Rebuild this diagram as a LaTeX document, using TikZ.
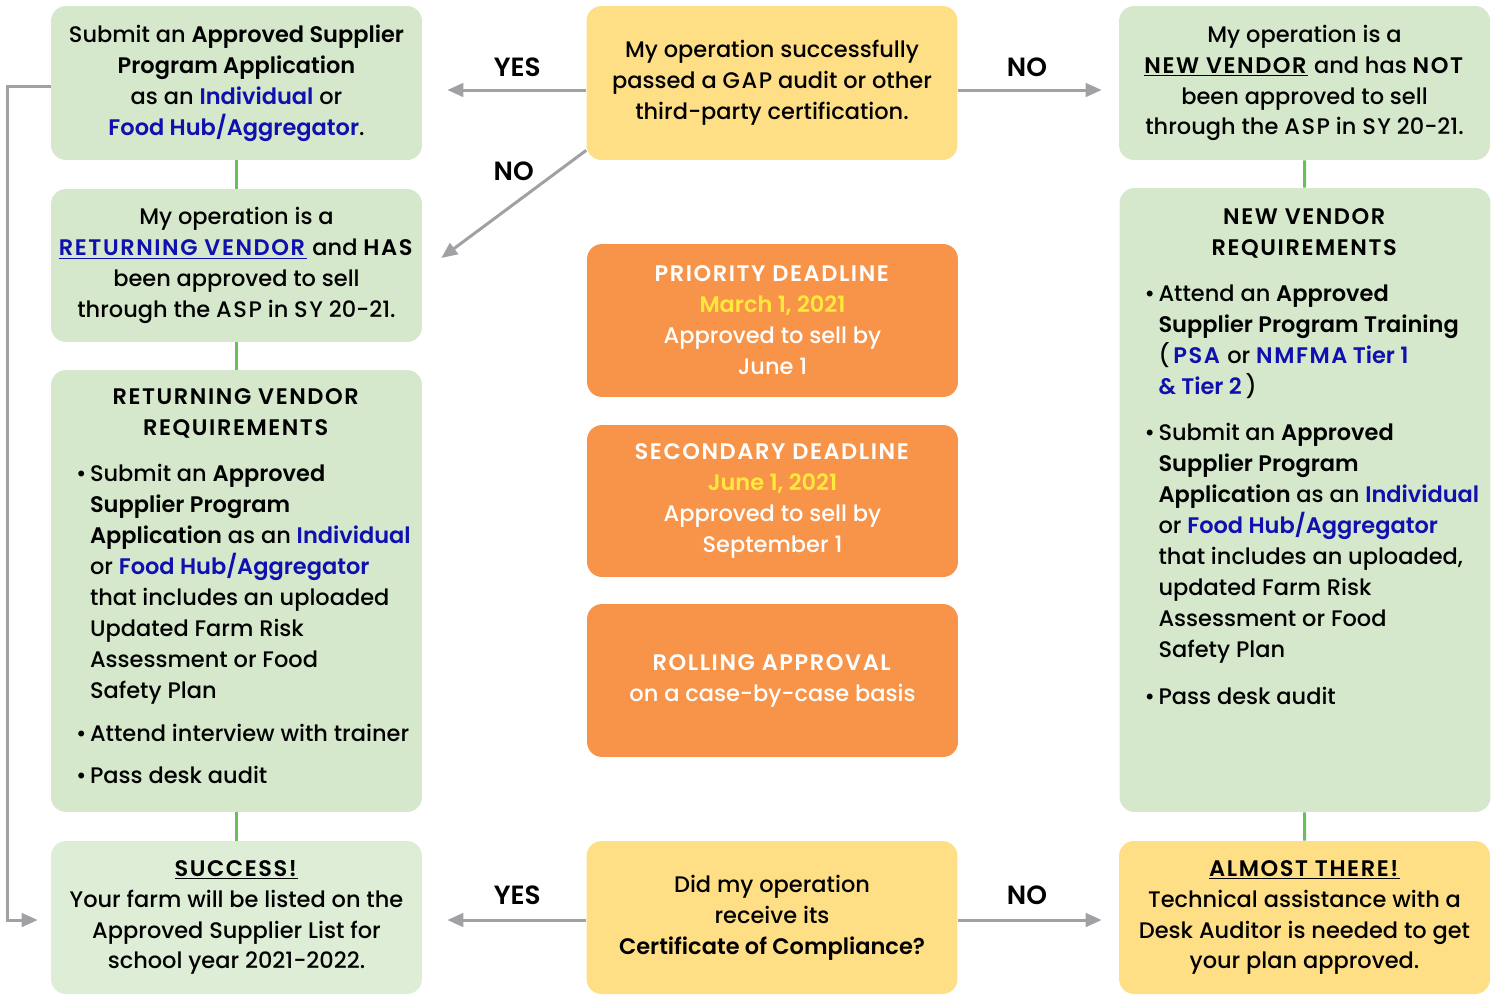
\documentclass[tikz,border=0pt]{standalone}
\usepackage{fontspec}
\setmainfont{Poppins}[UprightFont={Poppins Medium}, BoldFont={Poppins SemiBold}]
\usetikzlibrary{arrows.meta}

\definecolor{boxgreen}{HTML}{D5E8CB}
\definecolor{succgreen}{HTML}{DDEDD6}
\definecolor{gapyellow}{HTML}{FFDF85}
\definecolor{dlorange}{HTML}{F79449}
\definecolor{datecol}{HTML}{FFE93A}
\definecolor{linkblue}{HTML}{1010B0}
\definecolor{arrowgrey}{HTML}{A0A1A5}
\definecolor{linkgreen}{HTML}{6ABF5A}

\newcommand\boxfont{\fontsize{12.8}{17.6}\selectfont}
\newcommand\caps[1]{{\addfontfeature{LetterSpace=7}#1}}
\newcommand\capsbf[1]{\textbf{\caps{#1}}}
\newcommand\bluebf[1]{\textcolor{linkblue}{\textbf{#1}}}
\newcommand\bitem[1]{\makebox[0.28cm][l]{\textbullet}\begin{tabular}[t]{@{}l@{}}#1\end{tabular}\par}

\begin{document}
\begin{tikzpicture}[x=0.02cm, y=-0.02cm,
    box/.style={rectangle, rounded corners=0.3cm, inner sep=0pt, minimum width=7.42cm, minimum height=3.06cm, align=center, font=\boxfont},
    greenbox/.style={box, fill=boxgreen},
    yellowbox/.style={box, fill=gapyellow},
    orangebox/.style={box, fill=dlorange, text=white},
    link/.style={draw=linkgreen, line width=0.06cm},
    arr/.style={draw=arrowgrey, line width=0.06cm, -{Triangle[length=0.32cm, width=0.27cm]}},
    lbl/.style={font=\fontsize{15}{18}\selectfont\bfseries}
]
    \useasboundingbox (0,0) rectangle (1497,994);

    % Left column
    \node[greenbox, minimum height=3.08cm] (sub) at (236.5,83) {Submit an \textbf{Approved Supplier}\\\textbf{Program Application}\\as an \bluebf{Individual} or\\\bluebf{Food Hub/Aggregator}.};
    \node[greenbox] (ret) at (236.5,265.5) {My operation is a\\\textcolor{linkblue}{\underline{\capsbf{RETURNING VENDOR}}} and \capsbf{HAS}\\been approved to sell\\through the \caps{ASP} in \caps{SY} 20-21.};
    \node[greenbox, minimum height=8.84cm] (rvreq) at (236.5,591) {\parbox{6.42cm}{\centering\capsbf{RETURNING VENDOR}\\\capsbf{REQUIREMENTS}\par\vspace{0.3cm}\raggedright
        \bitem{Submit an \textbf{Approved}\\\textbf{Supplier Program}\\\textbf{Application} as an \bluebf{Individual}\\or \bluebf{Food Hub/Aggregator}\\that includes an uploaded\\Updated Farm Risk\\Assessment or Food\\Safety Plan}\vspace{0.22cm}
        \bitem{Attend interview with trainer}\vspace{0.22cm}
        \bitem{Pass desk audit}}};
    \node[box, fill=succgreen] (succ) at (236.5,917.5) {\underline{\capsbf{SUCCESS!}}\\Your farm will be listed on the\\Approved Supplier List for\\school year 2021-2022.};

    % Middle column
    \node[yellowbox, minimum height=3.08cm] (gap) at (772,83) {My operation successfully\\passed a \caps{GAP} audit or other\\third-party certification.};
    \node[orangebox] (prio) at (772.5,320.5) {\capsbf{PRIORITY DEADLINE}\\\textcolor{datecol}{\textbf{March 1, 2021}}\\Approved to sell by\\June 1};
    \node[orangebox, minimum height=3.04cm] (sec) at (772.5,501) {\capsbf{SECONDARY DEADLINE}\\\textcolor{datecol}{\textbf{June 1, 2021}}\\Approved to sell by\\September 1};
    \node[orangebox] (roll) at (772.5,680.5) {\capsbf{ROLLING APPROVAL}\\on a case-by-case basis};
    \node[yellowbox] (coc) at (772,917.5) {Did my operation\\receive its\\\textbf{Certificate of Compliance?}};

    % Right column
    \node[greenbox, minimum height=3.08cm] (newv) at (1304.5,83) {My operation is a\\\underline{\capsbf{NEW VENDOR}} and has \capsbf{NOT}\\been approved to sell\\through the \caps{ASP} in \caps{SY} 20-21.};
    \node[greenbox, minimum height=12.48cm] (nvreq) at (1305,500) {\parbox[c][11.88cm][t]{6.42cm}{\centering\strut\capsbf{NEW VENDOR}\\\capsbf{REQUIREMENTS}\par\vspace{0.3cm}\raggedright
        \bitem{Attend an \textbf{Approved}\\\textbf{Supplier Program Training}\\(\,\bluebf{\caps{PSA}} or \bluebf{\caps{NMFMA} Tier 1}\\\bluebf{\& Tier 2}\,)}\vspace{0.28cm}
        \bitem{Submit an \textbf{Approved}\\\textbf{Supplier Program}\\\textbf{Application} as an \bluebf{Individual}\\or \bluebf{Food Hub/Aggregator}\\that includes an uploaded,\\updated Farm Risk\\Assessment or Food\\Safety Plan}\vspace{0.28cm}
        \bitem{Pass desk audit}}};
    \node[yellowbox] (almost) at (1304.5,917.5) {\underline{\capsbf{ALMOST THERE!}}\\Technical assistance with a\\Desk Auditor is needed to get\\your plan approved.};

    % Green links
    \draw[link] (sub) -- (ret);
    \draw[link] (ret) -- (rvreq);
    \draw[link] (rvreq) -- (succ);
    \draw[link] (newv) -- (nvreq);
    \draw[link] (nvreq) -- (almost);

    % Decision arrows
    \draw[arr, shorten >=0.5cm] ([yshift=-0.14cm]gap.west) -- ([yshift=-0.14cm]gap.west -| sub.east) node[lbl, pos=0.42, yshift=0.46cm] {YES};
    \draw[arr, shorten >=0.34cm] ([yshift=-0.14cm]gap.east) -- ([yshift=-0.14cm]gap.east -| newv.west) node[lbl, pos=0.43, yshift=0.46cm] {NO};
    \draw[arr] ([yshift=0.2cm]gap.south west) -- ([shift={(0.38cm,0.15cm)}]ret.east) node[lbl, midway, yshift=0.66cm] {NO};
    \draw[arr, shorten >=0.5cm] ([yshift=-0.05cm]coc.west) -- ([yshift=-0.05cm]coc.west -| succ.east) node[lbl, pos=0.42, yshift=0.5cm] {YES};
    \draw[arr, shorten >=0.34cm] ([yshift=-0.05cm]coc.east) -- ([yshift=-0.05cm]coc.east -| almost.west) node[lbl, pos=0.43, yshift=0.5cm] {NO};

    % Loop back to success
    \draw[arr, shorten >=0.26cm] ([yshift=-0.06cm]sub.west) -- ++(-0.86cm,0) |- ([yshift=-0.05cm]succ.west);
\end{tikzpicture}
\end{document}
